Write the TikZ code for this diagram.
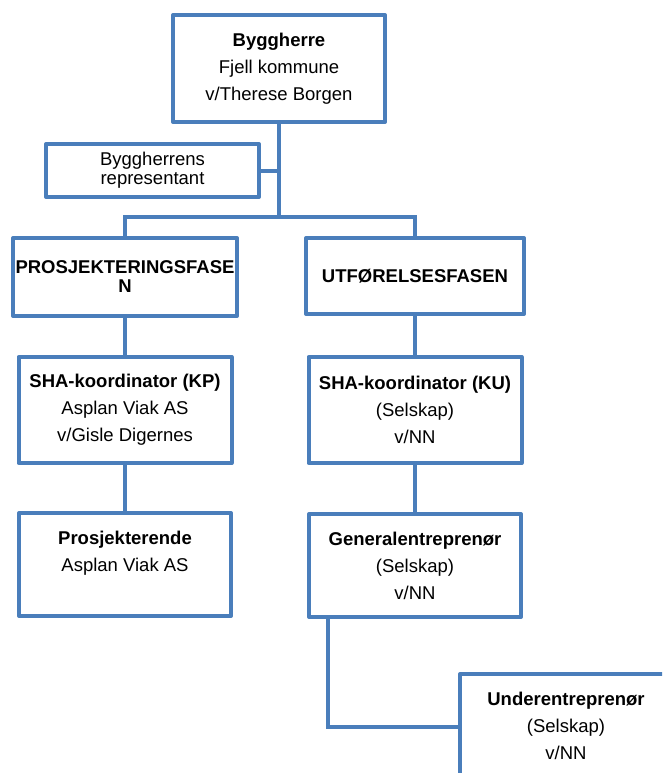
\documentclass[tikz,border=0pt]{standalone}
\usepackage{fontspec}
\setmainfont{Liberation Sans}
\definecolor{boxblue}{RGB}{74,126,187}
\begin{document}
\begin{tikzpicture}[x=1pt,y=-1pt,
  box/.style={draw=boxblue, line width=4pt, fill=white, align=center, inner sep=0pt,
    line join=round, font=\fontsize{18.5}{27}\selectfont},
  tight/.style={font=\fontsize{18.5}{19}\selectfont},
  conn/.style={draw=boxblue, line width=4pt}]
\useasboundingbox (0,0) rectangle (662,773);
\clip (0,0) rectangle (662,773);
% connectors (behind the boxes)
\coordinate (j1) at (279,217);
\coordinate (g1) at (328,727);
% boxes
\node[box, minimum width=212, minimum height=107] (bh) at (279,68.5) {\textbf{Byggherre}\\Fjell kommune\\v/Therese Borgen};
\node[box, tight, minimum width=213, minimum height=53] (rep) at (152.5,170.5) {Byggherrens\\representant};
\node[box, tight, minimum width=224, minimum height=78] (pf) at (125,277) {\textbf{PROSJEKTERINGSFASE}\\\textbf{N}};
\node[box, minimum width=218, minimum height=76] (uf) at (415,276) {\textbf{UTFØRELSESFASEN}};
\node[box, minimum width=213, minimum height=106] (kp) at (125,410) {\textbf{SHA-koordinator (KP)}\\Asplan Viak AS\\v/Gisle Digernes};
\node[box, minimum width=213, minimum height=106] (ku) at (415,410) {\textbf{SHA-koordinator (KU)}\\(Selskap)\\v/NN};
\node[box, minimum width=212, minimum height=103] (pr) at (125,564.5) {\textbf{Prosjekterende}\\Asplan Viak AS\\\mbox{}};
\node[box, minimum width=212, minimum height=103] (ge) at (415,565.5) {\textbf{Generalentreprenør}\\(Selskap)\\v/NN};
\node[box, minimum width=212, minimum height=103] (ue) at (566,725.5) {\textbf{Underentreprenør}\\(Selskap)\\v/NN};
% connectors
\draw[conn] (bh.south) -- (j1);
\draw[conn] (rep.east) -- (rep.east -| j1);
\draw[conn] (pf.north) -- (pf.north |- j1) -- (uf.north |- j1) -- (uf.north);
\draw[conn] (pf.south) -- (kp.north);
\draw[conn] (kp.south) -- (pr.north);
\draw[conn] (uf.south) -- (ku.north);
\draw[conn] (ku.south) -- (ge.north);
\draw[conn] (g1 |- ge.south) -- (g1) -- (g1 -| ue.west);
\end{tikzpicture}
\end{document}
